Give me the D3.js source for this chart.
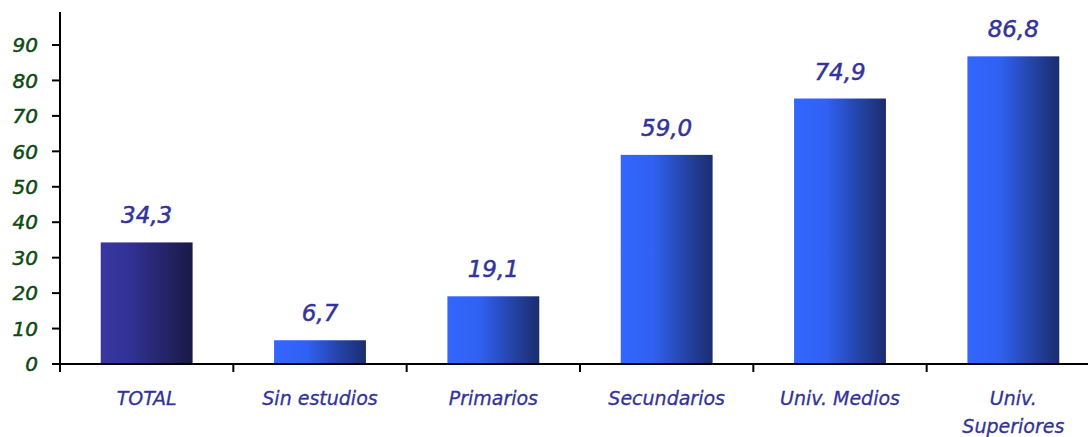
<!DOCTYPE html>
<html>
<head>
<meta charset="utf-8">
<script src="https://cdn.jsdelivr.net/npm/d3@7"></script>
<style>
  body { margin: 0; background: #fff; }
  text { font-family: "DejaVu Sans", Verdana, sans-serif; font-style: italic; }
</style>
</head>
<body>
<svg id="chart" width="1088" height="437"></svg>
<script>
// Data
const categories = ["TOTAL", "Sin estudios", "Primarios", "Secundarios", "Univ. Medios", "Univ. Superiores"];
const categoryLines = [["TOTAL"], ["Sin estudios"], ["Primarios"], ["Secundarios"], ["Univ. Medios"], ["Univ.", "Superiores"]];
const values = [34.3, 6.7, 19.1, 59.0, 74.9, 86.8];
const yTicks = [0, 10, 20, 30, 40, 50, 60, 70, 80, 90];

const svg = d3.select("#chart");
const left = 60, right = 1100, baseY = 364;

const x = d3.scaleBand().domain(categories).range([left, right]).padding(0);
const y = d3.scaleLinear().domain([0, 90]).range([baseY, 45]);
const barW = x.bandwidth() * 0.53;

// Gradients
const defs = svg.append("defs");
function addGrad(id, stops) {
    const g = defs.append("linearGradient").attr("id", id)
        .attr("x1", "0%").attr("x2", "100%").attr("y1", "0%").attr("y2", "0%");
    stops.forEach(s => g.append("stop").attr("offset", s[0]).attr("stop-color", s[1]));
}
addGrad("gradTotal", [["0%", "#37379f"], ["30%", "#323296"], ["100%", "#191946"]]);
addGrad("gradBlue", [["0%", "#3366ff"], ["35%", "#3061f2"], ["70%", "#2444a8"], ["100%", "#1b2d6e"]]);

// Bars
svg.append("g")
    .selectAll("rect")
    .data(values)
    .enter()
    .append("rect")
    .attr("x", (d, i) => x(categories[i]) + (x.bandwidth() - barW) / 2)
    .attr("y", d => y(d))
    .attr("width", barW)
    .attr("height", d => baseY - y(d))
    .attr("fill", (d, i) => i === 0 ? "url(#gradTotal)" : "url(#gradBlue)");

// Value labels
svg.append("g")
    .selectAll("text")
    .data(values)
    .enter()
    .append("text")
    .attr("x", (d, i) => x(categories[i]) + x.bandwidth() / 2)
    .attr("y", d => y(d) - 19)
    .attr("text-anchor", "middle")
    .attr("fill", "#333399")
    .attr("stroke", "#333399")
    .attr("stroke-width", 0.5)
    .style("font-size", "23px")
    .text(d => d3.format(".1f")(d).replace(".", ","));

// Axes
const axisG = svg.append("g").attr("stroke", "#000").attr("stroke-width", 2);
axisG.append("line").attr("x1", left).attr("x2", left).attr("y1", 12).attr("y2", baseY + 8);
axisG.append("line").attr("x1", left - 8).attr("x2", 1088).attr("y1", baseY).attr("y2", baseY);

// y ticks
axisG.selectAll(".ytick")
    .data(yTicks)
    .enter()
    .append("line")
    .attr("x1", left - 8).attr("x2", left)
    .attr("y1", d => y(d)).attr("y2", d => y(d));

svg.append("g")
    .selectAll("text")
    .data(yTicks)
    .enter()
    .append("text")
    .attr("x", 38)
    .attr("y", d => y(d))
    .attr("dy", "0.36em")
    .attr("text-anchor", "end")
    .attr("fill", "#0f4a12")
    .attr("stroke", "#0f4a12")
    .attr("stroke-width", 0.5)
    .style("font-size", "20px")
    .text(d => d);

// x ticks at category boundaries
axisG.selectAll(".xtick")
    .data(categories.slice(1))
    .enter()
    .append("line")
    .attr("x1", d => x(d)).attr("x2", d => x(d))
    .attr("y1", baseY).attr("y2", baseY + 8);

// x labels
const xl = svg.append("g")
    .selectAll("text")
    .data(categoryLines)
    .enter()
    .append("text")
    .attr("text-anchor", "middle")
    .attr("fill", "#333399")
    .attr("stroke", "#333399")
    .attr("stroke-width", 0.3)
    .style("font-size", "19px")
    .attr("transform", (d, i) => `translate(${x(categories[i]) + x.bandwidth() / 2},405)`);
xl.selectAll("tspan")
    .data(d => d)
    .enter()
    .append("tspan")
    .attr("x", 0)
    .attr("y", (d, i) => i * 28)
    .text(d => d);
</script>
</body>
</html>
